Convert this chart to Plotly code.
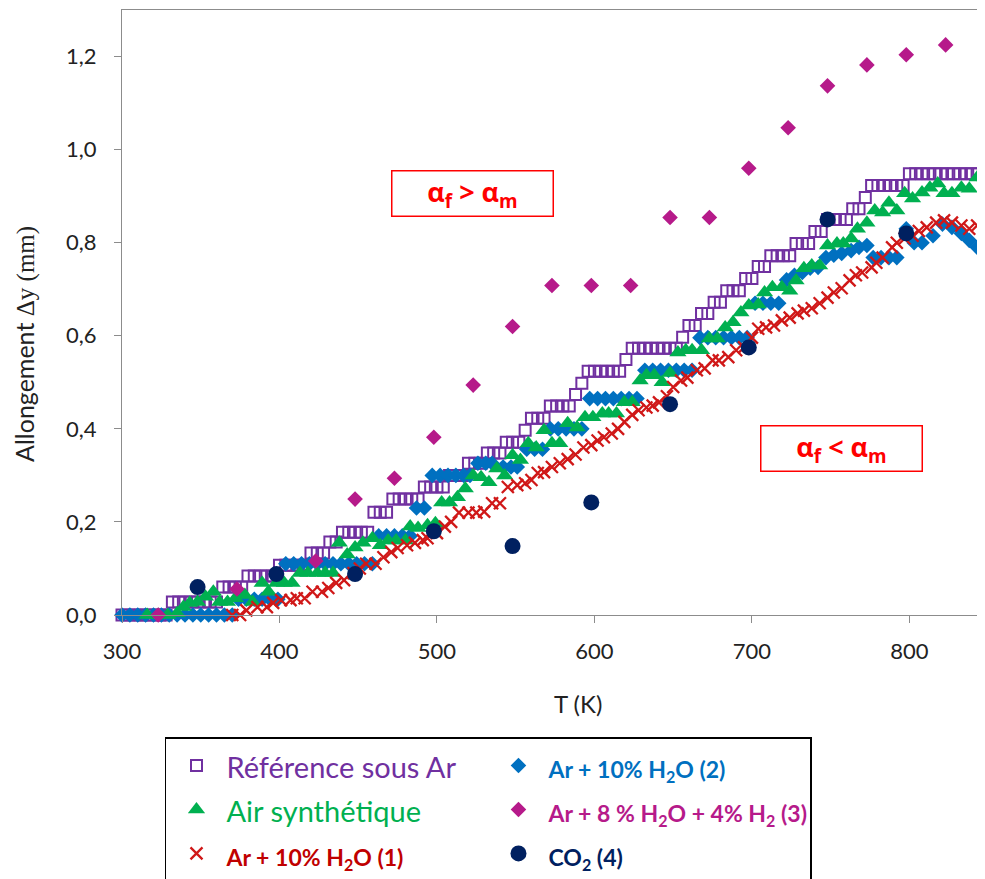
import plotly.graph_objects as go

# ---------------- data ----------------
ref_T = [300, 304, 308, 312, 316, 320, 324, 328,
         332, 336, 340, 344, 348, 352, 356, 360,
         364, 368, 372, 376,
         380, 384, 388, 392, 396,
         400, 404, 408, 412, 416,
         420, 424, 428,
         432, 436,
         440, 444, 448, 452, 456,
         460, 464, 468,
         472, 476, 480, 484, 488,
         492, 496, 500, 504,
         508, 512, 516,
         520, 524, 528,
         532, 536, 540,
         544, 548, 552,
         556,
         560, 564, 568,
         572, 576, 580, 584,
         588,
         592,
         596, 600, 604, 608, 612, 616,
         620,
         624, 628, 632, 636, 640, 644, 648, 652,
         656,
         660, 664,
         668, 672,
         676, 680,
         684, 688, 692,
         696, 700,
         704, 708,
         712, 716, 720, 724,
         728, 732, 736,
         740, 744,
         748, 752, 756, 760,
         764, 768,
         772,
         776, 780, 784, 788, 792, 796,
         800, 804, 808, 812, 816, 820, 824, 828, 832, 836, 840, 844, 848]
ref_v = [0, 0, 0, 0, 0, 0, 0, 0,
         0.028, 0.028, 0.028, 0.028, 0.028, 0.028, 0.028, 0.028,
         0.06, 0.06, 0.06, 0.06,
         0.084, 0.084, 0.084, 0.084, 0.084,
         0.107, 0.107, 0.107, 0.107, 0.107,
         0.133, 0.133, 0.133,
         0.157, 0.157,
         0.178, 0.178, 0.178, 0.178, 0.178,
         0.221, 0.221, 0.221,
         0.249, 0.249, 0.249, 0.249, 0.249,
         0.275, 0.275, 0.275, 0.275,
         0.30, 0.30, 0.30,
         0.326, 0.326, 0.326,
         0.348, 0.348, 0.348,
         0.371, 0.371, 0.371,
         0.397,
         0.423, 0.423, 0.423,
         0.449, 0.449, 0.449, 0.449,
         0.474,
         0.498,
         0.524, 0.524, 0.524, 0.524, 0.524, 0.524,
         0.549,
         0.573, 0.573, 0.573, 0.573, 0.573, 0.573, 0.573, 0.573,
         0.597,
         0.622, 0.622,
         0.648, 0.648,
         0.672, 0.672,
         0.697, 0.697, 0.697,
         0.723, 0.723,
         0.749, 0.749,
         0.772, 0.772, 0.772, 0.772,
         0.798, 0.798, 0.798,
         0.824, 0.824,
         0.85, 0.85, 0.85, 0.85,
         0.873, 0.873,
         0.897,
         0.923, 0.923, 0.923, 0.923, 0.923, 0.923,
         0.948, 0.948, 0.948, 0.948, 0.948, 0.948, 0.948, 0.948, 0.948, 0.948, 0.948, 0.948, 0.948]

air_T = [316, 323, 329, 335, 339, 343, 348, 353, 358, 362,
         367, 372, 378, 383, 389, 393, 398, 403, 408, 413,
         418, 424, 429, 434, 438, 443, 448, 453, 459, 464,
         469, 474, 480, 483, 488, 494, 499, 503, 508, 513,
         518, 523, 528, 533, 538, 543, 548, 553, 558, 563,
         568, 573, 578, 583, 589, 594, 599, 605, 609, 614,
         619, 624, 629, 633, 638, 643, 648, 653, 658, 662,
         668, 673, 678, 683, 688, 693, 698, 704, 708, 713,
         719, 724, 728, 733, 738, 743, 748, 754, 758, 763,
         767, 773, 778, 783, 787, 792, 797, 802, 808, 813,
         818, 822, 827, 833, 838, 843, 848]
air_v = [0, 0, 0, 0.004, 0.017, 0.026, 0.028, 0.039, 0.05, 0.028,
         0.028, 0.036, 0.043, 0.028, 0.069, 0.05, 0.069, 0.069, 0.069, 0.09,
         0.09, 0.09, 0.09, 0.09, 0.155, 0.13, 0.145, 0.155, 0.165, 0.15,
         0.16, 0.16, 0.16, 0.19, 0.187, 0.193, 0.197, 0.242, 0.242, 0.253,
         0.272, 0.30, 0.296, 0.285, 0.315, 0.30, 0.343, 0.333, 0.369, 0.36,
         0.397, 0.369, 0.369, 0.412, 0.403, 0.425, 0.425, 0.433, 0.433, 0.433,
         0.457, 0.457, 0.504, 0.515, 0.515, 0.50, 0.52, 0.564, 0.569, 0.569,
         0.569, 0.594, 0.594, 0.618, 0.629, 0.65, 0.665, 0.667, 0.693, 0.704,
         0.704, 0.697, 0.719, 0.745, 0.751, 0.751, 0.794, 0.798, 0.798, 0.809,
         0.83, 0.843, 0.869, 0.865, 0.886, 0.869, 0.906, 0.895, 0.908, 0.918,
         0.927, 0.906, 0.906, 0.918, 0.916, 0.94, 0.94]

h2o1_T = [370, 375, 379, 386, 392, 396, 401, 407, 411, 416,
          421, 427, 431, 436, 441, 447, 451, 455, 461, 466,
          471, 475, 481, 486, 491, 494, 500, 505, 509, 514,
          520, 525, 530, 535, 540, 545, 551, 556, 560, 564,
          568, 573, 578, 583, 588, 593, 598, 602, 606, 611,
          615, 619, 624, 628, 633, 637, 641, 646, 650, 655,
          659, 665, 670, 675, 679, 685, 690, 695, 700, 704,
          709, 714, 719, 724, 729, 733, 738, 743, 748, 752,
          757, 762, 766, 770, 776, 779, 783, 789, 792, 797,
          802, 806, 811, 817, 822, 827, 833, 838, 843, 848]
h2o1_v = [0, 0, 0.01, 0.017, 0.017, 0.026, 0.032, 0.032, 0.036, 0.036,
          0.05, 0.05, 0.058, 0.069, 0.075, 0.09, 0.1, 0.11, 0.11, 0.124,
          0.135, 0.144, 0.15, 0.155, 0.161, 0.165, 0.176, 0.19, 0.2, 0.22,
          0.22, 0.22, 0.222, 0.24, 0.24, 0.275, 0.279, 0.283, 0.29, 0.305,
          0.307, 0.318, 0.326, 0.335, 0.345, 0.36, 0.365, 0.375, 0.382, 0.39,
          0.40, 0.415, 0.43, 0.44, 0.446, 0.45, 0.457, 0.47, 0.49, 0.504,
          0.51, 0.526, 0.53, 0.547, 0.547, 0.554, 0.569, 0.575, 0.596, 0.615,
          0.618, 0.622, 0.633, 0.639, 0.648, 0.654, 0.659, 0.67, 0.682, 0.693,
          0.702, 0.719, 0.73, 0.736, 0.747, 0.757, 0.768, 0.79, 0.80, 0.809,
          0.815, 0.825, 0.833, 0.843, 0.848, 0.843, 0.837, 0.83, 0.837, 0.852]

h2o2_T = [300, 305, 310, 315, 320, 325, 330, 335, 340, 345, 350, 355, 360, 365, 370,
          374, 379, 384, 389, 394, 399,
          404, 409, 414, 419, 424, 429, 434, 439, 444, 449, 454, 459,
          463, 468, 473, 478, 483,
          487, 492,
          497, 502, 507, 512, 517, 521,
          526, 531, 535,
          542, 547, 551,
          557, 562, 567,
          572, 577, 582, 587, 592,
          597, 602, 607, 612, 617, 622, 627,
          632, 637, 642, 647, 652, 657, 662,
          667, 672, 677, 682, 687, 692, 697,
          702, 707, 712, 717,
          722, 727, 732, 737, 742,
          747, 752, 757, 763, 768, 773,
          777, 782, 787, 792,
          798, 803, 808,
          815, 821, 827, 833, 838, 843, 848]
h2o2_v = [0, 0, 0, 0, 0, 0, 0, 0, 0, 0, 0, 0, 0, 0, 0,
          0.034, 0.034, 0.034, 0.034, 0.034, 0.034,
          0.11, 0.11, 0.11, 0.11, 0.11, 0.11, 0.11, 0.11, 0.11, 0.11, 0.11, 0.11,
          0.17, 0.17, 0.17, 0.17, 0.17,
          0.23, 0.23,
          0.30, 0.30, 0.30, 0.30, 0.30, 0.30,
          0.326, 0.326, 0.326,
          0.318, 0.318, 0.318,
          0.356, 0.356, 0.356,
          0.40, 0.40, 0.40, 0.40, 0.40,
          0.465, 0.465, 0.465, 0.465, 0.465, 0.465, 0.465,
          0.526, 0.526, 0.526, 0.526, 0.526, 0.526, 0.526,
          0.596, 0.596, 0.596, 0.596, 0.596, 0.596, 0.596,
          0.67, 0.67, 0.67, 0.67,
          0.72, 0.73, 0.736, 0.745, 0.747,
          0.768, 0.773, 0.777, 0.783, 0.79, 0.794,
          0.768, 0.768, 0.768, 0.768,
          0.83, 0.80, 0.80,
          0.815, 0.84, 0.833, 0.82, 0.805, 0.79, 0.794]

h2o_h2_T = [323, 373, 423, 448, 473, 498, 523, 548, 573, 598,
            623, 648, 673, 698, 723, 748, 773, 798, 823, 848]
h2o_h2_v = [0, 0.056, 0.116, 0.249, 0.294, 0.382, 0.494, 0.62, 0.708, 0.708,
            0.708, 0.854, 0.854, 0.96, 1.047, 1.137, 1.182, 1.204, 1.225, 1.225]

co2_T = [348, 398, 448, 498, 548, 598, 648, 698, 748, 798, 848]
co2_v = [0.06, 0.088, 0.088, 0.18, 0.148, 0.242, 0.453, 0.575, 0.85, 0.82, 1.099]

x_ticks = [300, 400, 500, 600, 700, 800]
y_ticks = [0, 0.2, 0.4, 0.6, 0.8, 1.0, 1.2]

# ---------------- colours ----------------
C_REF = "#7030A0"
C_AIR = "#00B050"
C_RED = "#D01818"
C_RED_TXT = "#C00000"
C_BLUE = "#0070C0"
C_PINK = "#B61A8A"
C_NAVY = "#002060"


def reg(txt, col):
    return f'<span style="color:{col};font-size:29px">{txt}</span>'


def bold(txt, col):
    return f'<span style="color:{col};font-size:23px"><b>{txt}</b></span>'


fig = go.Figure()

fig.add_trace(go.Scatter(
    x=ref_T, y=ref_v, mode="markers", cliponaxis=False, legendrank=1,
    name=reg("Référence sous Ar", C_REF),
    marker=dict(symbol="square-open", size=11, color=C_REF, line=dict(width=2, color=C_REF))))
fig.add_trace(go.Scatter(
    x=h2o2_T, y=h2o2_v, mode="markers", cliponaxis=False, legendrank=2,
    name=bold("Ar + 10% H<sub>2</sub>O (2)", C_BLUE),
    marker=dict(symbol="diamond", size=12, color=C_BLUE, line=dict(width=0))))
fig.add_trace(go.Scatter(
    x=air_T, y=air_v, mode="markers", cliponaxis=False, legendrank=3,
    name=reg("Air synthétique", C_AIR),
    marker=dict(symbol="triangle-up", size=15, color=C_AIR, line=dict(width=0))))
fig.add_trace(go.Scatter(
    x=h2o1_T, y=h2o1_v, mode="markers", cliponaxis=False, legendrank=5,
    name=bold("Ar + 10% H<sub>2</sub>O (1)", C_RED_TXT),
    marker=dict(symbol="x-thin-open", size=12, color=C_RED, line=dict(width=2.3, color=C_RED))))
fig.add_trace(go.Scatter(
    x=h2o_h2_T, y=h2o_h2_v, mode="markers", cliponaxis=False, legendrank=4,
    name=bold("Ar + 8 % H<sub>2</sub>O + 4% H<sub>2</sub> (3)", C_PINK),
    marker=dict(symbol="diamond", size=12, color=C_PINK, line=dict(width=0))))
fig.add_trace(go.Scatter(
    x=co2_T, y=co2_v, mode="markers", cliponaxis=False, legendrank=6,
    name=bold("CO<sub>2</sub> (4)", C_NAVY),
    marker=dict(symbol="circle", size=16, color=C_NAVY, line=dict(width=0))))

AX = "#8C8C8C"
TICKFONT = dict(size=22, color="#222", family="Lato, sans-serif")
fig.update_xaxes(range=[300, 848], tickvals=x_ticks, showgrid=False, zeroline=False,
                 showline=True, linecolor=AX, linewidth=1.3, mirror=True,
                 ticks="outside", ticklen=7, tickcolor=AX, tickwidth=1.3,
                 ticklabelstandoff=9, tickfont=TICKFONT)
fig.update_yaxes(range=[0, 1.3], tickvals=y_ticks, tickformat=".1f", showgrid=False,
                 zeroline=False, showline=True, linecolor=AX, linewidth=1.3,
                 ticks="outside", ticklen=7, tickcolor=AX, tickwidth=1.3,
                 ticklabelstandoff=13, tickfont=TICKFONT)

# axis titles
fig.add_annotation(xref="paper", yref="paper", x=0.528, y=-0.1455, showarrow=False,
                   xanchor="center", yanchor="middle",
                   text="T (K)", font=dict(size=24, color="#222", family="Lato, sans-serif"))
fig.add_annotation(xref="paper", yref="paper", x=-0.1124, y=0.448, showarrow=False, textangle=-90,
                   xanchor="center", yanchor="middle",
                   text='Allongement <span style="font-family:Liberation Serif">Δy (mm)</span>',
                   font=dict(size=25, color="#222", family="Lato, sans-serif"))

# region labels
fig.add_annotation(xref="x", yref="y", x=522.7, y=0.906, showarrow=False,
                   text="<b>α<sub>f</sub> &gt; α<sub>m</sub></b>",
                   font=dict(size=27, color="#FF0000", family="Open Sans, sans-serif"),
                   bordercolor="#FF0000", borderwidth=1.5, borderpad=0, bgcolor="white",
                   width=160, height=44)
fig.add_annotation(xref="x", yref="y", x=756.9, y=0.358, showarrow=False,
                   text="<b>α<sub>f</sub> &lt; α<sub>m</sub></b>",
                   font=dict(size=27, color="#FF0000", family="Open Sans, sans-serif"),
                   bordercolor="#FF0000", borderwidth=1.5, borderpad=0, bgcolor="white",
                   width=160, height=44)

fig.update_layout(
    width=985, height=879,
    margin=dict(l=114, r=8, t=2, b=272, autoexpand=False),
    paper_bgcolor="white", plot_bgcolor="white",
    separators=", ",
    font=dict(family="Lato, sans-serif", color="#222"),
    showlegend=True,
    legend=dict(orientation="h", x=0.0498, y=-0.2017, xanchor="left", yanchor="top",
                bordercolor="#000", borderwidth=1.5, bgcolor="white",
                font=dict(size=31.5, family="Lato, sans-serif"),
                itemwidth=50, entrywidth=257, traceorder="normal"),
)

fig.write_html("out.html")
